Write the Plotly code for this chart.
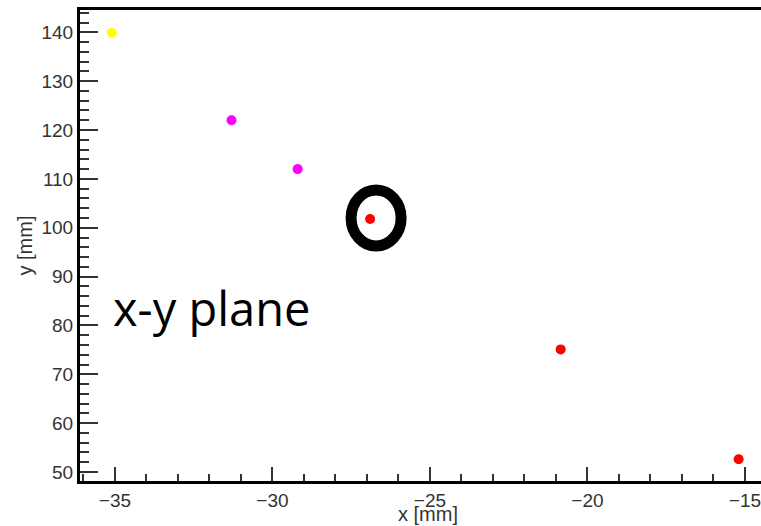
import plotly.graph_objects as go

# Hit positions in the x-y plane, grouped by marker colour
yellow_x = [-35.1]
yellow_y = [139.9]
magenta_x = [-31.3, -29.2]
magenta_y = [122.0, 112.0]
red_x = [-26.9, -20.85, -15.2]
red_y = [101.8, 75.1, 52.6]

# The highlighted hit (circled)
highlight_x = red_x[0]
highlight_y = red_y[0]

x_range = [-36.11, -14.49]
y_range = [48.16, 144.57]

fig = go.Figure()
for xs, ys, col in [(yellow_x, yellow_y, "#ffff00"),
                    (magenta_x, magenta_y, "#ff00ff"),
                    (red_x, red_y, "#ff0000")]:
    fig.add_trace(go.Scatter(x=xs, y=ys, mode="markers",
                             marker=dict(color=col, size=10, line=dict(width=0)),
                             showlegend=False))

# Thick black ring around the highlighted hit
fig.add_shape(type="circle", xref="x", yref="y",
              xsizemode="pixel", ysizemode="pixel",
              xanchor=highlight_x, yanchor=highlight_y,
              x0=-19, x1=31, y0=-27, y1=29,
              line=dict(color="black", width=11), fillcolor="rgba(0,0,0,0)")

fig.add_annotation(x=-31.93, y=83.5, xref="x", yref="y",
                   text="x-y plane", showarrow=False,
                   xanchor="center", yanchor="middle",
                   font=dict(family="Open Sans", size=47, color="black"))

tick_font = dict(family="Liberation Sans, Arial", size=19, color="#333")
title_font = dict(family="Liberation Sans, Arial", size=20, color="#333")

# x-axis title sits at the bottom edge, below the tick labels
fig.add_annotation(x=0.5117, y=-0.0955, xref="paper", yref="paper",
                   text="x [mm]", showarrow=False, borderpad=0,
                   xanchor="center", yanchor="bottom", font=title_font)

fig.update_xaxes(range=x_range, dtick=5, tick0=0, showgrid=False, zeroline=False,
                 ticks="inside", ticklen=14, tickwidth=1.5, tickcolor="#333",
                 minor=dict(ticks="inside", dtick=1, tick0=0, ticklen=7,
                            tickwidth=1.5, tickcolor="#333", showgrid=False),
                 showline=True, linewidth=3, linecolor="black", mirror=True,
                 tickfont=tick_font, ticklabeloverflow="allow")
fig.update_yaxes(range=y_range, dtick=10, tick0=0, showgrid=False, zeroline=False,
                 ticks="inside", ticklen=18, tickwidth=1.5, tickcolor="#333",
                 minor=dict(ticks="inside", dtick=2, tick0=0, ticklen=9,
                            tickwidth=1.5, tickcolor="#333", showgrid=False),
                 showline=True, linewidth=3, linecolor="black", mirror=False,
                 tickfont=tick_font,
                 title=dict(text="y [mm]", font=title_font, standoff=4))

fig.update_layout(width=761, height=526,
                  margin=dict(l=80, r=0, t=10, b=45),
                  plot_bgcolor="white", paper_bgcolor="white")

fig.write_html("out.html")
